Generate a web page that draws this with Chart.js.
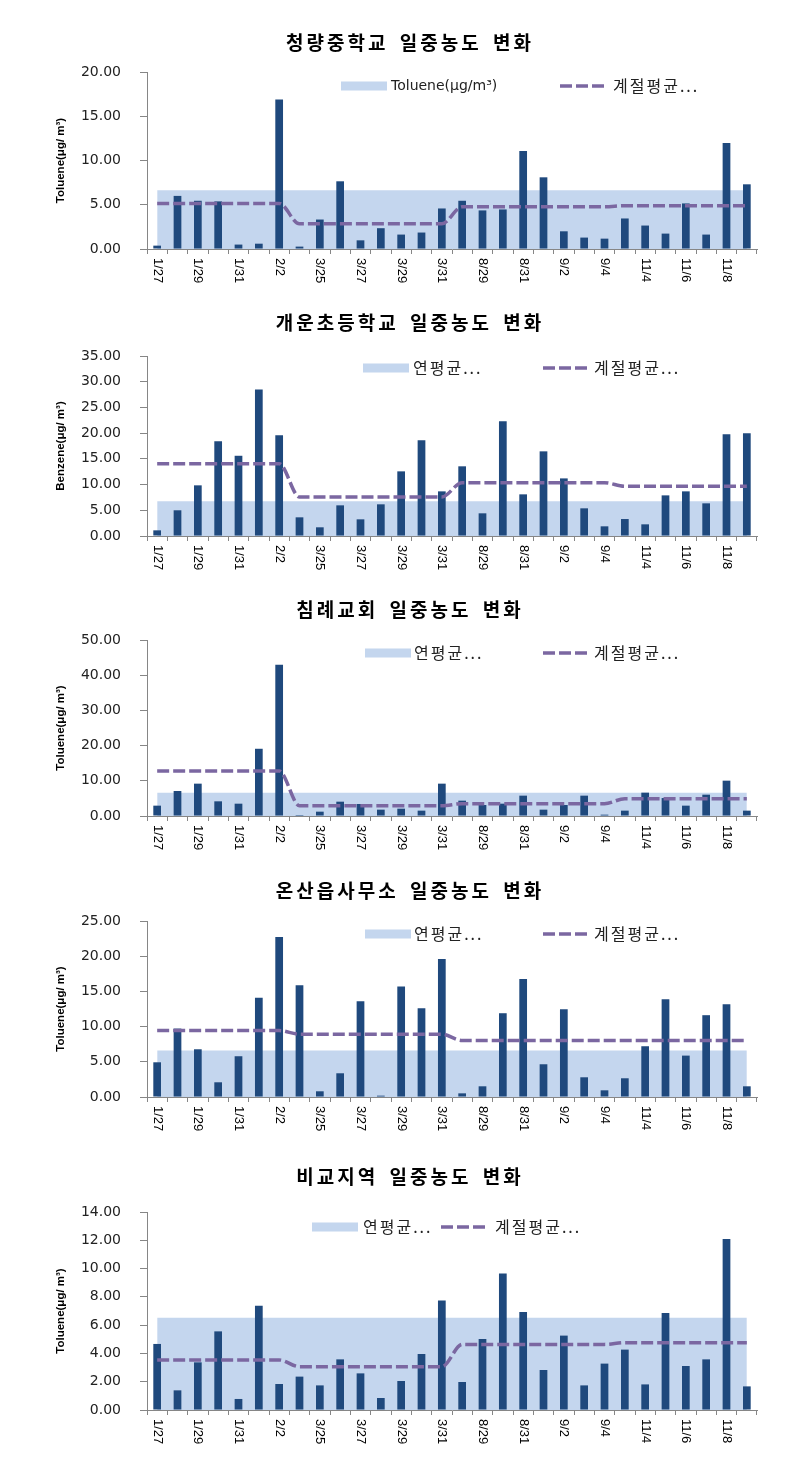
<!DOCTYPE html>
<html>
<head>
<meta charset="utf-8">
<title>일중농도 변화</title>
<script src="https://cdn.jsdelivr.net/npm/chart.js@4.4.1/dist/chart.umd.min.js"></script>
<style>
    html, body { margin: 0; padding: 0; background: #fff; }
    #page { position: relative; width: 803px; height: 1457px; overflow: hidden; }
    #page canvas { position: absolute; left: 0; }
</style>
</head>
<body>
<div id="page"></div>
<script>
// === Data ===
const dates = ['1/27', '1/28', '1/29', '1/30', '1/31', '2/1', '2/2',
    '3/24', '3/25', '3/26', '3/27', '3/28', '3/29', '3/30', '3/31',
    '8/28', '8/29', '8/30', '8/31', '9/1', '9/2', '9/3', '9/4',
    '11/3', '11/4', '11/5', '11/6', '11/7', '11/8', '11/9'];
// 0 = winter, 1 = spring, 2 = summer, 3 = fall
const seasonOfDay = [0, 0, 0, 0, 0, 0, 0, 1, 1, 1, 1, 1, 1, 1, 1, 2, 2, 2, 2, 2, 2, 2, 2, 3, 3, 3, 3, 3, 3, 3];

const titles = ['청량중학교 일중농도 변화', '개운초등학교 일중농도 변화', '침례교회 일중농도 변화',
    '온산읍사무소 일중농도 변화', '비교지역 일중농도 변화'];
const yTitles = ['Toluene(μg/ m³)', 'Benzene(μg/ m³)', 'Toluene(μg/ m³)', 'Toluene(μg/ m³)', 'Toluene(μg/ m³)'];
const bandLabels = ['Toluene(μg/m³)', '연평균...', '연평균...', '연평균...', '연평균...'];
const seasonLabel = '계절평균...';
const yMax = [20, 35, 50, 25, 14];
const yStep = [5, 5, 10, 5, 2];
const annualMean = [6.63, 6.74, 6.63, 6.59, 6.53];

const cheongryang = [0.38, 6.0, 5.45, 5.38, 0.5, 0.6, 16.9, 0.27, 3.33, 7.65, 0.98, 2.35, 1.63, 1.86, 4.58,
    5.45, 4.36, 4.47, 11.06, 8.1, 2.0, 1.29, 1.17, 3.45, 2.65, 1.74, 5.15, 1.63, 11.97, 7.31];
const gaeun = [1.1, 5.0, 9.85, 18.4, 15.6, 28.5, 19.6, 3.63, 1.69, 5.96, 3.24, 6.16, 12.57, 18.6, 8.68,
    13.55, 4.41, 22.3, 8.1, 16.46, 11.2, 5.38, 1.88, 3.3, 2.27, 7.9, 8.68, 6.35, 19.77, 19.96];
const chimrye = [2.94, 7.1, 9.19, 4.17, 3.5, 19.1, 43.0, 0.28, 1.23, 4.07, 3.41, 1.8, 2.08, 1.52, 9.19,
    4.36, 3.13, 3.5, 5.78, 1.8, 3.13, 5.78, 0.38, 1.52, 6.63, 5.1, 2.94, 6.06, 10.04, 1.52];
const onsan = [4.93, 9.72, 6.78, 2.09, 5.79, 14.09, 22.72, 15.89, 0.81, 3.37, 13.6, 0.19, 15.7, 12.62, 19.6,
    0.52, 1.52, 11.9, 16.75, 4.65, 12.48, 2.8, 0.95, 2.66, 7.21, 13.9, 5.88, 11.62, 13.19, 1.52];
const control = [4.67, 1.39, 3.37, 5.56, 0.78, 7.38, 1.84, 2.36, 1.74, 3.58, 2.59, 0.85, 2.05, 3.96, 7.75,
    1.98, 5.02, 9.66, 6.93, 2.83, 5.26, 1.74, 3.28, 4.27, 1.81, 6.86, 3.11, 3.58, 12.09, 1.67];

const seasonCheongryang = [5.15, 2.84, 4.77, 4.89];
const seasonGaeun = [14.06, 7.58, 10.37, 9.66];
const seasonChimrye = [12.78, 2.94, 3.5, 4.92];
const seasonOnsan = [9.44, 8.92, 8.02, 8.02];
const seasonControl = [3.54, 3.06, 4.64, 4.76];

const dailySeries = [cheongryang, gaeun, chimrye, onsan, control];
const seasonSeries = [seasonCheongryang, seasonGaeun, seasonChimrye, seasonOnsan, seasonControl];

// === Layout (page pixels) ===
const boxes = [
    { top: 22, plotTop: 72, plotBottom: 249, titleY: 43, legendY: 86, legendX: [341, 391, 560, 613] },
    { top: 306, plotTop: 356, plotBottom: 536, titleY: 323, legendY: 368, legendX: [363, 413, 543, 594] },
    { top: 590, plotTop: 640, plotBottom: 816, titleY: 610, legendY: 653, legendX: [365, 414, 543, 594] },
    { top: 871, plotTop: 921, plotBottom: 1097, titleY: 891, legendY: 934, legendX: [365, 414, 543, 594] },
    { top: 1162, plotTop: 1212, plotBottom: 1410, titleY: 1177, legendY: 1227, legendX: [312, 363, 441, 495] }
];

const colors = {
    bar: '#1f497d',
    band: '#c4d6ee',
    season: '#7b67a1',
    axis: '#868686',
    text: '#222'
};

const hangul = /[\uAC00-\uD7A3]/;

// === Title, legend and rotated date labels ===
const decorPlugin = {
    id: 'decor',
    afterDraw(chart, args, opts) {
        const { ctx } = chart;
        const xs = chart.scales.x;
        const top = opts.box.top;

        // date labels, every other day, rotated clockwise
        ctx.save();
        ctx.font = '13px "Liberation Sans", Arial, sans-serif';
        ctx.fillStyle = '#000';
        ctx.textAlign = 'left';
        ctx.textBaseline = 'middle';
        chart.data.labels.forEach((d, i) => {
            if (i % 2) return;
            ctx.save();
            ctx.translate(xs.getPixelForValue(i), xs.top + 9);
            ctx.rotate(Math.PI / 2);
            ctx.fillText(d, 0, 0);
            ctx.restore();
        });
        ctx.restore();

        // chart title
        ctx.save();
        ctx.font = 'bold 19px "Noto Sans CJK KR", sans-serif';
        ctx.letterSpacing = '3px';
        ctx.wordSpacing = '4px';
        ctx.fillStyle = '#000';
        ctx.textAlign = 'center';
        ctx.textBaseline = 'middle';
        ctx.fillText(opts.title, 410, opts.box.titleY - top);
        ctx.restore();

        // legend
        const ly = opts.box.legendY - top;
        const [rectX, bandTextX, dashX, seasonTextX] = opts.box.legendX;
        const band = chart.data.datasets[0];
        const season = chart.data.datasets[2];

        ctx.save();
        ctx.fillStyle = band.backgroundColor;
        ctx.fillRect(rectX, ly - 4.5, 46, 9);
        ctx.strokeStyle = season.borderColor;
        ctx.lineWidth = season.borderWidth;
        ctx.setLineDash(season.borderDash);
        ctx.beginPath();
        ctx.moveTo(dashX, ly);
        ctx.lineTo(dashX + 44, ly);
        ctx.stroke();
        ctx.restore();

        [[band.label, bandTextX], [season.label, seasonTextX]].forEach(([text, tx]) => {
            ctx.save();
            if (hangul.test(text)) {
                ctx.font = '16px "Noto Sans CJK KR", sans-serif';
                ctx.letterSpacing = '2px';
            } else {
                ctx.font = '14px "DejaVu Sans", sans-serif';
            }
            ctx.fillStyle = colors.text;
            ctx.textAlign = 'left';
            ctx.textBaseline = 'middle';
            ctx.fillText(text, tx, ly);
            ctx.restore();
        });
    }
};

// === Charts ===
function makeChart(k) {
    const box = boxes[k];
    const height = box.plotBottom - box.plotTop + 50 + 45;

    const canvas = document.createElement('canvas');
    canvas.width = 803;
    canvas.height = height;
    canvas.style.top = box.top + 'px';
    canvas.style.width = '803px';
    canvas.style.height = height + 'px';
    document.getElementById('page').appendChild(canvas);

    new Chart(canvas.getContext('2d'), {
        type: 'bar',
        data: {
            labels: dates,
            datasets: [
                {
                    type: 'line',
                    label: bandLabels[k],
                    data: dates.map(() => annualMean[k]),
                    backgroundColor: colors.band,
                    borderColor: 'transparent',
                    borderWidth: 0,
                    pointRadius: 0,
                    fill: 'origin',
                    order: 3
                },
                {
                    label: 'daily',
                    data: dailySeries[k],
                    backgroundColor: colors.bar,
                    barPercentage: 0.38,
                    categoryPercentage: 1,
                    order: 2
                },
                {
                    type: 'line',
                    label: seasonLabel,
                    data: seasonOfDay.map(s => seasonSeries[k][s]),
                    borderColor: colors.season,
                    borderWidth: 3.5,
                    borderDash: [12, 4],
                    pointRadius: 0,
                    fill: false,
                    cubicInterpolationMode: 'monotone',
                    order: 1
                }
            ]
        },
        options: {
            responsive: false,
            animation: false,
            layout: { padding: { top: 50, right: 46, bottom: 0, left: 0 } },
            plugins: {
                legend: { display: false },
                title: { display: false },
                tooltip: { enabled: false },
                decor: { box: box, title: titles[k] }
            },
            scales: {
                x: {
                    offset: true,
                    ticks: { display: false, autoSkip: false },
                    grid: { offset: true, drawOnChartArea: false, tickLength: 5, color: colors.axis },
                    border: { color: colors.axis },
                    afterFit: (scale) => { scale.height = 45; }
                },
                y: {
                    min: 0,
                    max: yMax[k],
                    ticks: {
                        stepSize: yStep[k],
                        padding: 19,
                        color: colors.text,
                        font: { family: '"DejaVu Sans", sans-serif', size: 14 },
                        callback: v => v.toFixed(2)
                    },
                    grid: { drawOnChartArea: false, tickLength: 7, color: colors.axis },
                    border: { color: colors.axis },
                    title: {
                        display: true,
                        text: yTitles[k],
                        color: '#000',
                        font: { family: '"Liberation Sans", Arial, sans-serif', size: 11.5, weight: 'bold' },
                        padding: { top: 54, bottom: 0 }
                    },
                    afterFit: (scale) => { scale.width = 147; }
                }
            }
        },
        plugins: [decorPlugin]
    });
}

titles.forEach((t, k) => makeChart(k));
</script>
</body>
</html>
